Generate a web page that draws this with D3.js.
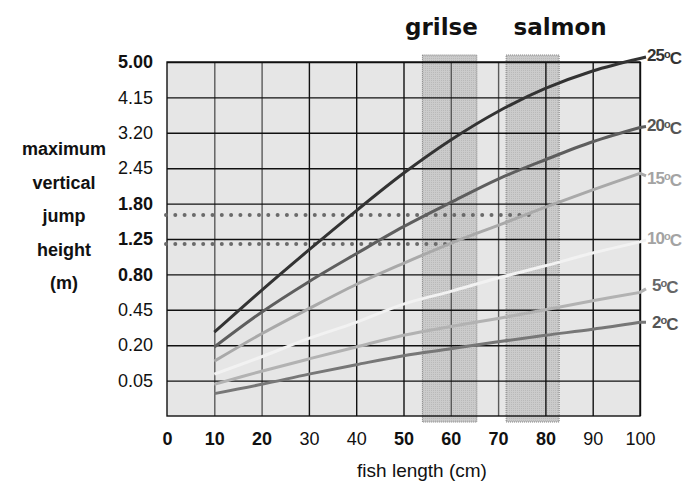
<!DOCTYPE html>
<html>
<head>
<meta charset="utf-8">
<script src="https://cdn.jsdelivr.net/npm/d3@7"></script>
<style>
  body { margin: 0; background: #fff; }
  text { font-family: "Liberation Sans", Arial, sans-serif; }
</style>
</head>
<body>
<div id="graph"></div>
<script>
// fish length (cm) where the curves are read
var lengths = [10, 20, 30, 40, 50, 60, 70, 80, 90, 100];

// max vertical jump height (m) for each water temperature
var temp25 = [0.28, 0.63, 1.10, 1.68, 2.35, 3.04, 3.70, 4.28, 4.75, 5.10];
var temp20 = [0.19, 0.43, 0.72, 1.05, 1.43, 1.82, 2.24, 2.62, 3.00, 3.32];
var temp15 = [0.12, 0.27, 0.46, 0.69, 0.93, 1.19, 1.45, 1.74, 2.04, 2.35];
var temp10 = [0.07, 0.14, 0.24, 0.35, 0.50, 0.62, 0.76, 0.90, 1.06, 1.21];
var temp5  = [0.04, 0.08, 0.13, 0.19, 0.26, 0.32, 0.38, 0.45, 0.53, 0.61];
var temp2  = [0.02, 0.04, 0.07, 0.105, 0.145, 0.18, 0.22, 0.26, 0.30, 0.35];

var seriesNames = ["25", "20", "15", "10", "5", "2"];

var yTickLabels = ["0.05", "0.20", "0.45", "0.80", "1.25", "1.80", "2.45", "3.20", "4.15", "5.00"];
var xTicks = [0, 10, 20, 30, 40, 50, 60, 70, 80, 90, 100];

// grilse / salmon length ranges (cm)
var bandNames = ["grilse", "salmon"];
var bandRanges = [[54, 65.5], [71.7, 82.9]];

// dotted reference heights (m) and how far they run (cm)
var refHeights = [1.61, 1.18];
var refEnds = [76.7, 59.4];

//variables
var margin = {top: 62, right: 50, bottom: 72, left: 167},
    width  = 690 - margin.left - margin.right,
    height = 488 - margin.top - margin.bottom;

var x      = d3.scaleLinear().domain([0, 100]).range([0, width]),
    y      = d3.scaleSqrt().domain([0, 5]).range([height, 0]),
    ySteps = d3.scaleLinear().domain([0, yTickLabels.length]).range([height, 0]);

var lineColors  = ["#333", "#5e5e5e", "#a9a9a9", "#f2f2f2", "#b2b2b2", "#777"];
var labelColors = ["#333", "#555", "#a3a3a3", "#a3a3a3", "#666", "#555"];
var labelShift  = [-3, -2, 5, -4, -7, 0];
var boldY = [false, false, false, true, true, true, false, false, false, true];
var boldX = [true, true, true, false, false, true, true, true, true, false, false];

var svg = d3.select("#graph")
  .append("svg")
  .attr("width", 690)
  .attr("height", 488);

var g = svg.append("g")
  .attr("transform", "translate(" + margin.left + "," + margin.top + ")");

// plot background
g.append("rect")
  .attr("width", width)
  .attr("height", height)
  .style("fill", "#e6e6e6");

// shaded length bands
var pat = svg.append("defs").append("pattern")
  .attr("id", "stip")
  .attr("width", 2).attr("height", 2)
  .attr("patternUnits", "userSpaceOnUse");
pat.append("rect").attr("width", 2).attr("height", 2).style("fill", "#cbcbcb");
pat.append("rect").attr("width", 1).attr("height", 1).style("fill", "#b9b9b9");

g.selectAll(".band")
  .data(bandRanges)
  .enter()
  .append("rect")
  .attr("class", "band")
  .attr("x", function (d) { return x(d[0]); })
  .attr("width", function (d) { return x(d[1]) - x(d[0]); })
  .attr("y", -7)
  .attr("height", height + 13)
  .style("fill", "url(#stip)")
  .style("stroke", "#7a7a7a")
  .style("stroke-width", 1)
  .style("stroke-dasharray", "1 1");

g.selectAll(".bandTitle")
  .data(bandNames)
  .enter()
  .append("text")
  .attr("class", "bandTitle")
  .attr("x", function (d, i) { return i == 0 ? x(bandRanges[i][0]) + 19 : x(bandRanges[i][1]) + 1; })
  .attr("y", -27)
  .attr("text-anchor", "middle")
  .style("font-family", "'DejaVu Sans', sans-serif")
  .style("font-weight", "bold")
  .style("font-size", "23px")
  .style("fill", "#111")
  .text(function (d) { return d; });

// grid
var xGrid = g.append("g")
  .attr("transform", "translate(0," + height + ")")
  .call(d3.axisBottom(x).tickValues(xTicks.slice(1)).tickSize(-height).tickFormat(""));
xGrid.select(".domain").remove();
xGrid.selectAll("line")
  .style("stroke", function (d) { return (d == 10 || d == 20 || d == 60 || d == 70) ? "#5a5a5a" : "#111"; })
  .style("stroke-width", 1.4);

var yGrid = g.append("g")
  .call(d3.axisLeft(ySteps).tickValues(d3.range(1, yTickLabels.length + 1)).tickSize(-width).tickFormat(""));
yGrid.select(".domain").remove();
yGrid.selectAll("line").style("stroke", "#111").style("stroke-width", 1.4);

g.append("rect")
  .attr("width", width)
  .attr("height", height)
  .style("fill", "none")
  .style("stroke", "#111")
  .style("stroke-width", 1.4);

// dotted reference lines
g.selectAll(".ref")
  .data(refHeights)
  .enter()
  .append("line")
  .attr("class", "ref")
  .attr("x1", x(0) - 1)
  .attr("x2", function (d, i) { return x(refEnds[i]); })
  .attr("y1", function (d) { return y(d); })
  .attr("y2", function (d) { return y(d); })
  .style("stroke", "#6a6a6a")
  .style("stroke-width", 4)
  .style("stroke-linecap", "round")
  .style("stroke-dasharray", "0 9.3");

// curves
var allSeries = [temp25, temp20, temp15, temp10, temp5, temp2];
var line = d3.line()
  .curve(d3.curveCatmullRom)
  .x(function (d, i) { return x(lengths[i]); })
  .y(function (d) { return y(d); });

g.selectAll(".curve")
  .data(allSeries)
  .enter()
  .append("path")
  .attr("class", "curve")
  .attr("d", function (d, i) {
    var last = d[d.length - 1];
    return line(d) + "L" + (x(100) + 6) + "," + (y(last) + labelShift[i] * 0.5);
  })
  .style("fill", "none")
  .style("stroke", function (d, i) { return lineColors[i]; })
  .style("stroke-width", 3);

// curve labels
var lab = g.selectAll(".tlab")
  .data(allSeries)
  .enter()
  .append("text")
  .attr("class", "tlab")
  .attr("x", function (d, i) { return x(100) + (seriesNames[i].length == 1 ? 12 : 7); })
  .attr("y", function (d, i) { return y(d[d.length - 1]) + labelShift[i]; })
  .attr("dy", "0.35em")
  .style("font-size", "17px")
  .style("font-weight", "bold")
  .style("letter-spacing", "-1px")
  .style("fill", function (d, i) { return labelColors[i]; });
lab.append("tspan").text(function (d, i) { return seriesNames[i]; });
lab.append("tspan").attr("dy", "-0.35em").style("font-size", "11px").text("o");
lab.append("tspan").attr("dy", "0.35em").text("C");

// axes labels
var xAxis = g.append("g")
  .attr("transform", "translate(0," + height + ")")
  .call(d3.axisBottom(x).tickValues(xTicks).tickSize(0).tickPadding(16));
xAxis.select(".domain").remove();
xAxis.selectAll("text")
  .style("font-family", "'Liberation Sans', Arial, sans-serif")
  .style("font-size", "18px")
  .style("font-weight", function (d, i) { return boldX[i] ? "bold" : "normal"; })
  .style("fill", "#111");

var yAxis = g.append("g")
  .call(d3.axisLeft(ySteps).tickValues(d3.range(1, yTickLabels.length + 1))
    .tickFormat(function (d) { return yTickLabels[d - 1]; })
    .tickSize(0).tickPadding(14));
yAxis.select(".domain").remove();
yAxis.selectAll("text")
  .style("font-family", "'Liberation Sans', Arial, sans-serif")
  .style("font-size", "18px")
  .style("font-weight", function (d) { return boldY[d - 1] ? "bold" : "normal"; })
  .style("fill", "#111");

g.append("text")
  .attr("x", 422 - margin.left)
  .attr("y", height + 61)
  .attr("text-anchor", "middle")
  .style("font-size", "19px")
  .style("fill", "#111")
  .text("fish length (cm)");

var yTitle = ["maximum", "vertical", "jump", "height", "(m)"];
svg.selectAll(".ytitle")
  .data(yTitle)
  .enter()
  .append("text")
  .attr("class", "ytitle")
  .attr("x", 64)
  .attr("y", function (d, i) { return 149 + i * 33.5; })
  .attr("dy", "0.35em")
  .attr("text-anchor", "middle")
  .style("font-size", "18px")
  .style("font-weight", "bold")
  .style("fill", "#111")
  .text(function (d) { return d; });
</script>
</body>
</html>
